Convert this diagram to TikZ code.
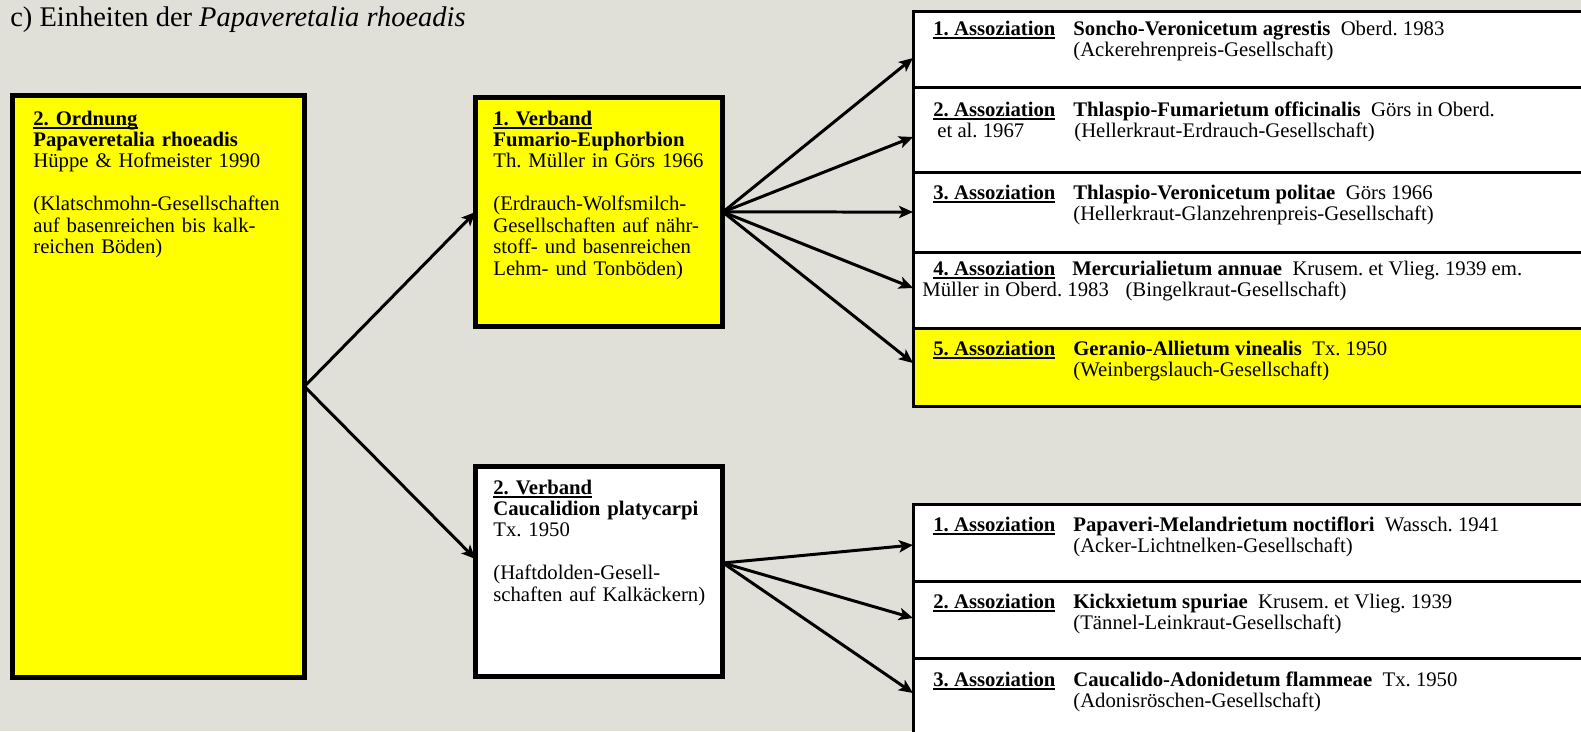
\documentclass[tikz,border=0pt]{standalone}
\usepackage{fontspec}
\setmainfont{Liberation Serif}
\usetikzlibrary{arrows.meta, positioning, calc}
\definecolor{mygelb}{RGB}{255, 255, 0}
\definecolor{mygrau}{RGB}{224, 224, 217}
\newsavebox{\ustrbox}
\newcommand{\unterstr}[1]{\sbox{\ustrbox}{#1}\rlap{\rule[-2.4pt]{\wd\ustrbox}{1.1pt}}\usebox{\ustrbox}}
\frenchspacing

\begin{document}
\begin{tikzpicture}[x=0.02cm, y=-0.02cm,
    txt/.style={font=\fontsize{11.8}{12.2}\selectfont, inner sep=0pt},
    kasten/.style={draw=black, line width=0.1cm, inner sep=0pt, outer sep=0pt, anchor=north west},
    zeile/.style={draw=black, line width=0.06cm, inner sep=0pt, outer sep=0pt, anchor=north west, minimum width=14.4cm},
    pfeil/.style={line width=0.06cm, -{Stealth[length=8pt, width=7pt, inset=2pt]}}]
    % Hintergrund
    \useasboundingbox[fill=mygrau] (0,0) rectangle (1581,731);
    \clip (0,0) rectangle (1581,731);

    % Titel
    \node[font=\fontsize{16.2}{18}\selectfont, inner sep=0pt, anchor=base west] (titel) at (10,26) {c) Einheiten der \textit{Papaveretalia rhoeadis}};

    % Assoziationen (Zeilen)
    \foreach \name/\oben/\hoehe/\farbe in {a1/11/76/white, a2/87/85/white, a3/172/80/white, a4/252/76/white, a5/328/78/mygelb, b1/504/77/white, b2/581/77/white, b3/658/77/white}
        \node[zeile, fill=\farbe, minimum height=\hoehe*0.02cm] (\name) at (913,\oben) {};

    % Ordnung
    \node[kasten, fill=mygelb, minimum width=5.84cm, minimum height=11.66cm] (ordnung) at (12.5,95) {};
    \node[txt, text width=5.6cm, align=left, anchor=base west] (ordtxt) at (33,125) {%
        \unterstr{\textbf{2. Ordnung}}\\
        \textbf{Papaveretalia rhoeadis}\\
        Hüppe \& Hofmeister 1990\\[12.2pt]
        (Klatschmohn-Gesellschaften\\
        auf basenreichen bis kalk-\\
        reichen Böden)};

    % Verbände
    \node[kasten, fill=mygelb, minimum width=4.95cm, minimum height=4.6cm] (verband1) at (475.5,97) {};
    \node[txt, text width=4.7cm, align=left, anchor=base west] (v1txt) at (493,125) {%
        \unterstr{\textbf{1. Verband}}\\
        \textbf{Fumario-Euphorbion}\\
        Th. Müller in Görs 1966\\[12.2pt]
        (Erdrauch-Wolfsmilch-\\
        Gesellschaften auf nähr-\\
        stoff- und basenreichen\\
        Lehm- und Tonböden)};
    \node[kasten, fill=white, minimum width=4.95cm, minimum height=4.22cm] (verband2) at (475.5,466) {};
    \node[txt, text width=4.7cm, align=left, anchor=base west] (v2txt) at (493,494) {%
        \unterstr{\textbf{2. Verband}}\\
        \textbf{Caucalidion platycarpi}\\
        Tx. 1950\\[12.2pt]
        (Haftdolden-Gesell-\\
        schaften auf Kalkäckern)};

    % Texte der Assoziationen, 1. Verband
    \node[txt, anchor=base west] (a1n) at ([shift={(20,24)}]a1.north west) {\unterstr{\textbf{1. Assoziation}}};
    \node[txt, anchor=base west] (a1s) at ([shift={(160,24)}]a1.north west) {\textbf{Soncho-Veronicetum agrestis}\ \ Oberd. 1983};
    \node[txt, anchor=base west] (a1d) at ([shift={(160,45.5)}]a1.north west) {(Ackerehrenpreis-Gesellschaft)};

    \node[txt, anchor=base west] (a2n) at ([shift={(20,29)}]a2.north west) {\unterstr{\textbf{2. Assoziation}}};
    \node[txt, anchor=base west] (a2s) at ([shift={(160,29)}]a2.north west) {\textbf{Thlaspio-Fumarietum officinalis}\ \ Görs in Oberd.};
    \node[txt, anchor=base west] (a2a) at ([shift={(24,50.5)}]a2.north west) {et al. 1967};
    \node[txt, anchor=base west] (a2d) at ([shift={(161,50.5)}]a2.north west) {(Hellerkraut-Erdrauch-Gesellschaft)};

    \node[txt, anchor=base west] (a3n) at ([shift={(20,27)}]a3.north west) {\unterstr{\textbf{3. Assoziation}}};
    \node[txt, anchor=base west] (a3s) at ([shift={(160,27)}]a3.north west) {\textbf{Thlaspio-Veronicetum politae}\ \ Görs 1966};
    \node[txt, anchor=base west] (a3d) at ([shift={(160,48.5)}]a3.north west) {(Hellerkraut-Glanzehrenpreis-Gesellschaft)};

    \node[txt, anchor=base west] (a4n) at ([shift={(20,23)}]a4.north west) {\unterstr{\textbf{4. Assoziation}}};
    \node[txt, anchor=base west] (a4s) at ([shift={(159,23)}]a4.north west) {\textbf{Mercurialietum annuae}\ \ Krusem. et Vlieg. 1939 em.};
    \node[txt, anchor=base west] (a4d) at ([shift={(9,44.5)}]a4.north west) {Müller in Oberd. 1983\hspace{0.8em}(Bingelkraut-Gesellschaft)};

    \node[txt, anchor=base west] (a5n) at ([shift={(20,27)}]a5.north west) {\unterstr{\textbf{5. Assoziation}}};
    \node[txt, anchor=base west] (a5s) at ([shift={(160,27)}]a5.north west) {\textbf{Geranio-Allietum vinealis}\ \ Tx. 1950};
    \node[txt, anchor=base west] (a5d) at ([shift={(160,48.5)}]a5.north west) {(Weinbergslauch-Gesellschaft)};

    % Texte der Assoziationen, 2. Verband
    \node[txt, anchor=base west] (b1n) at ([shift={(20,27)}]b1.north west) {\unterstr{\textbf{1. Assoziation}}};
    \node[txt, anchor=base west] (b1s) at ([shift={(160,27)}]b1.north west) {\textbf{Papaveri-Melandrietum noctiflori}\ \ Wassch. 1941};
    \node[txt, anchor=base west] (b1d) at ([shift={(160,48.5)}]b1.north west) {(Acker-Lichtnelken-Gesellschaft)};

    \node[txt, anchor=base west] (b2n) at ([shift={(20,27)}]b2.north west) {\unterstr{\textbf{2. Assoziation}}};
    \node[txt, anchor=base west] (b2s) at ([shift={(160,27)}]b2.north west) {\textbf{Kickxietum spuriae}\ \ Krusem. et Vlieg. 1939};
    \node[txt, anchor=base west] (b2d) at ([shift={(160,48.5)}]b2.north west) {(Tännel-Leinkraut-Gesellschaft)};

    \node[txt, anchor=base west] (b3n) at ([shift={(20,28)}]b3.north west) {\unterstr{\textbf{3. Assoziation}}};
    \node[txt, anchor=base west] (b3s) at ([shift={(160,28)}]b3.north west) {\textbf{Caucalido-Adonidetum flammeae}\ \ Tx. 1950};
    \node[txt, anchor=base west] (b3d) at ([shift={(160,49.5)}]b3.north west) {(Adonisröschen-Gesellschaft)};

    % Pfeile
    \draw[pfeil] (ordnung.east) -- (verband1.west);
    \draw[pfeil] (ordnung.east) -- ([yshift=0.25cm]verband2.west);
    \foreach \ziel/\dy in {a1/-0.18, a2/-0.15, a3/0, a4/0.04, a5/0.08}
        \draw[pfeil] (verband1.east) -- ([yshift=\dy cm]\ziel.west);
    \foreach \ziel/\dy in {b1/-0.05, b2/0.03, b3/0.07}
        \draw[pfeil] ([yshift=0.17cm]verband2.east) -- ([yshift=\dy cm]\ziel.west);
\end{tikzpicture}
\end{document}
